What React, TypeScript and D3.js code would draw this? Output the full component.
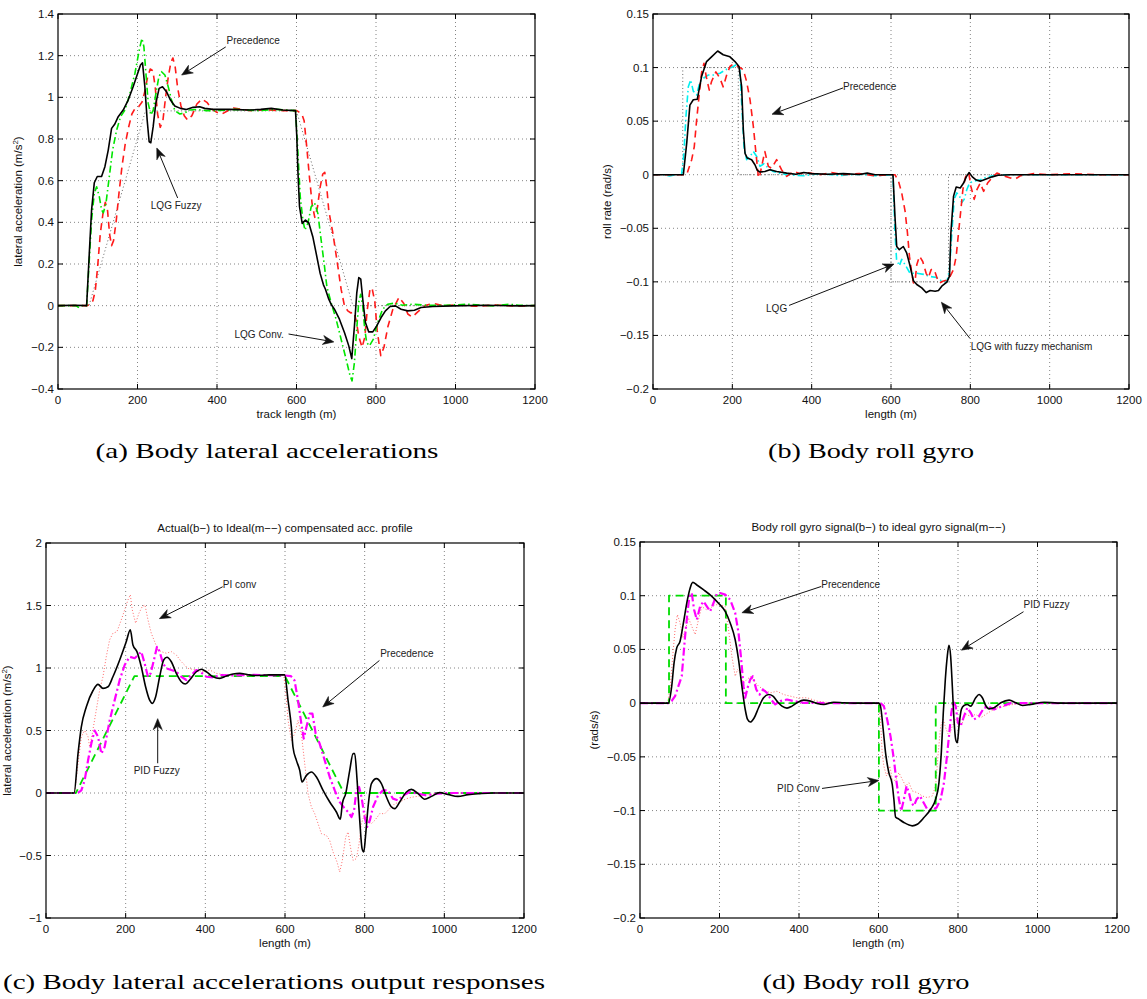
import React from 'react';
import * as d3 from 'd3';

type P = [number, number];

// ---------- shared ticks ----------
const xTicks = [0, 200, 400, 600, 800, 1000, 1200];
const accTicksA = [-0.4, -0.2, 0, 0.2, 0.4, 0.6, 0.8, 1, 1.2, 1.4];
const rollTicks = [-0.2, -0.15, -0.1, -0.05, 0, 0.05, 0.1, 0.15];
const accTicksC = [-1, -0.5, 0, 0.5, 1, 1.5, 2];

// ---------- panel (a): lateral accelerations ----------
const aIdeal: P[] = [[0,0],[78,0],[220,0.935],[600,0.935],[742,0],[1200,0]];
const aLqgFuzzy: P[] = [[0,0],[40,0.002],[72,0],[78.7,0.25],[84.5,0.46],[91.3,0.59],[98.8,0.62],[109.6,0.62],[118,0.667],[126.4,0.747],[134.8,0.851],[143,0.872],[151.5,0.907],[164,0.939],[176.6,0.987],[189,1.051],[199,1.107],[207.6,1.155],[212.6,1.166],[218.5,1.051],[224.3,0.891],[229.3,0.787],[233.5,0.782],[239.4,0.859],[246,0.971],[254.4,1.043],[262.9,1.051],[272.9,1.027],[283,0.987],[293.8,0.958],[308,0.947],[323,0.942],[339.8,0.952],[356.5,0.955],[369,0.947],[390,0.942],[431.8,0.942],[482,0.939],[510,0.942],[536.5,0.947],[565.6,0.939],[597.5,0.936],[600.8,0.811],[603.4,0.651],[607.6,0.475],[614.3,0.395],[622.6,0.411],[631,0.397],[641,0.331],[649.5,0.251],[659.5,0.155],[667.8,0.1],[672.8,0.079],[681.2,0.031],[687,0.007],[695.4,-0.017],[708,-0.065],[720.6,-0.129],[731.5,-0.193],[739,-0.254],[745.8,-0.097],[751.7,0.063],[756.7,0.135],[761.7,0.127],[766.7,0.031],[773.4,-0.081],[781.8,-0.126],[791.9,-0.126],[801.9,-0.097],[812.8,-0.057],[823.7,-0.025],[835.5,-0.004],[848.9,-0.001],[863.1,-0.017],[879.8,-0.025],[896.6,-0.022],[913.3,-0.009],[942.6,-0.004],[992.8,-0.001],[1076.5,0.002],[1160,-0.001],[1200,0]];
const aLqgConv: P[] = [[0,0],[45,0],[53,-0.01],[62,0.002],[72,0],[78.7,0.219],[84.5,0.411],[91.3,0.539],[97.2,0.571],[103.9,0.523],[109.8,0.459],[114,0.446],[120.7,0.491],[129,0.619],[137.4,0.747],[147.5,0.843],[157.5,0.907],[168.4,0.939],[181,1.019],[193.5,1.115],[204.4,1.227],[211.1,1.283],[216.1,1.243],[221.2,1.115],[227,0.971],[233.7,0.915],[239.6,0.939],[246.3,1.019],[253.8,1.099],[260.5,1.123],[268.9,1.107],[277.3,1.051],[285.7,0.987],[294,0.936],[306.6,0.92],[319.2,0.926],[331.8,0.939],[348.5,0.942],[373.6,0.936],[398.7,0.936],[448.9,0.942],[499,0.936],[549.2,0.942],[597.8,0.936],[603.6,0.731],[609.4,0.523],[616.1,0.411],[621.1,0.363],[628.6,0.395],[637,0.475],[645.4,0.494],[653.7,0.443],[662,0.315],[670.5,0.187],[676.4,0.091],[687,0.015],[699.6,-0.065],[712.2,-0.161],[724.8,-0.257],[734.8,-0.337],[739.8,-0.361],[745.7,-0.273],[751.5,-0.113],[756.5,0.015],[761.5,0.055],[766.6,-0.001],[771.6,-0.113],[776.6,-0.177],[783.3,-0.193],[793.4,-0.161],[804.2,-0.081],[816.8,-0.017],[829.4,0.007],[846.1,0.012],[867,0.002],[892.2,0.007],[925.7,0.002],[975.9,0.002],[1034.5,0.007],[1093,-0.001],[1135,0.007],[1160,0.002],[1200,0]];
const aPrecedence: P[] = [[0,0],[73,0],[81.2,0.008],[87.9,0.024],[93.8,0.072],[99.6,0.184],[106.3,0.344],[113,0.44],[118.9,0.496],[124.7,0.456],[129.7,0.344],[134.8,0.288],[139.8,0.312],[146.5,0.408],[153.2,0.536],[160.7,0.664],[169.1,0.776],[177.5,0.856],[185.9,0.92],[194.3,0.949],[202.7,0.955],[211.1,0.976],[217.8,1.024],[225.3,1.096],[232,1.136],[238.7,1.128],[244.6,1.048],[250.5,0.92],[257.2,0.856],[263.9,0.888],[270.6,1.0],[277.3,1.096],[284,1.168],[289.1,1.189],[294.9,1.144],[300.8,1.048],[309.2,0.96],[317.6,0.912],[326,0.891],[336.9,0.912],[349.4,0.968],[362,0.992],[374.6,0.976],[387.1,0.944],[399.7,0.928],[412.3,0.92],[424.8,0.933],[441.6,0.949],[458.3,0.944],[483.5,0.936],[517,0.94],[567.2,0.936],[600.7,0.936],[613.3,0.92],[619.2,0.888],[625.9,0.76],[632.6,0.616],[639.3,0.488],[646,0.424],[652.7,0.472],[659.4,0.568],[666.1,0.632],[671.1,0.64],[676.2,0.568],[681.2,0.456],[691.3,0.35],[703.9,0.19],[712.2,0.079],[720.6,0],[729,-0.025],[737,-0.035],[744,-0.03],[750,-0.07],[757,-0.15],[765,-0.2],[772,-0.15],[778,-0.02],[785,0.08],[790,0.085],[797,0.02],[803,-0.12],[812,-0.24],[820,-0.2],[830,-0.1],[842,-0.02],[858,0.04],[870,0.01],[880,-0.04],[891,-0.055],[905,-0.03],[925,0.002],[945,0.01],[970,0],[1000,0.004],[1050,-0.003],[1100,0.003],[1150,-0.002],[1200,0]];

// ---------- panel (b): roll gyro ----------
const bIdeal: P[] = [[0,0],[75,0],[75,0.1],[215,0.1],[215,0],[600,0],[600,-0.1],[745,-0.1],[745,0],[1200,0]];
const bLqgFuzzy: P[] = [[0,0],[76.5,0],[85,0.0295],[93,0.065],[101.6,0.07],[111.7,0.0705],[122.7,0.092],[135,0.1056],[147.6,0.11],[163,0.1155],[177,0.112],[194,0.11],[206.7,0.1056],[216.8,0.101],[223.5,0.082],[227.7,0.042],[232,0.02],[237.8,0.0155],[248.7,0.014],[257,0.0093],[263,0.004],[269.7,0.0025],[282,0.003],[294.9,0.0047],[311.7,0.003],[337,0.0015],[360,0.0005],[380,0.002],[400,0.001],[440,0.0005],[480,0.001],[520,0.0002],[540,0.0015],[560,0],[605,0],[610,-0.039],[614.4,-0.067],[621,-0.07],[631,-0.067],[639.5,-0.073],[648,-0.085],[656.5,-0.099],[665,-0.1025],[677.6,-0.1056],[688.6,-0.11],[698.7,-0.108],[711.3,-0.1087],[719.7,-0.108],[728,-0.104],[740.8,-0.1003],[747.5,-0.0947],[751,-0.054],[757.7,-0.02],[764.4,-0.0115],[774.5,-0.0124],[783,-0.0078],[789.7,-0.002],[797,0.002],[805,-0.002],[815,-0.005],[825,-0.006],[840,-0.004],[855,-0.002],[870,-0.0005],[900,0],[1200,0]];
const bPrecedence: P[] = [[0,0],[85,0],[89,0.0047],[97.5,0.014],[104,0.026],[110,0.051],[116.8,0.076],[122.7,0.096],[128.6,0.104],[135,0.09],[141.9,0.079],[147.6,0.087],[158.6,0.096],[168.7,0.09],[177,0.082],[185.7,0.093],[194,0.101],[202.5,0.1034],[215,0.101],[227.7,0.098],[236,0.087],[244.6,0.07],[253,0.045],[259.6,0.02],[265.5,-0.0015],[268,-0.003],[274,0.008],[282,0.0217],[290.8,0.0078],[299,0.006],[311.7,0.014],[324,0.0047],[337,-0.0015],[354,0.003],[371,0.001],[388,0.002],[420,0],[450,0.002],[480,0],[520,0.001],[560,-0.001],[600,0],[610,0],[618.8,-0.006],[627,-0.017],[635.5,-0.034],[641.4,-0.054],[646.5,-0.076],[652.4,-0.092],[656.6,-0.101],[660.8,-0.099],[665,-0.084],[671.8,-0.076],[680,-0.081],[688.6,-0.092],[694.5,-0.096],[701.3,-0.0885],[708.8,-0.0885],[715.6,-0.096],[722.3,-0.101],[730.8,-0.0994],[740.8,-0.0984],[749.3,-0.0947],[757.7,-0.0885],[764.4,-0.076],[770.3,-0.054],[776.2,-0.0326],[781.2,-0.014],[787.1,-0.003],[793,0.002],[796,0.0015],[801.5,-0.011],[809.8,-0.023],[816.6,-0.014],[825,-0.0078],[833.4,-0.0155],[843.5,-0.0078],[854.4,-0.003],[867,0.0015],[884,-0.001],[901,-0.003],[913.6,-0.004],[926,-0.001],[960,0.001],[1000,0],[1060,0.001],[1120,0],[1200,0]];
const bLqg: P[] = [[0,0],[30,0],[42,-0.0012],[55,0],[72,0],[78,0.02],[83,0.054],[89,0.082],[95,0.0885],[101.6,0.078],[110,0.0745],[118.5,0.087],[127,0.09],[139,0.093],[152,0.093],[168.7,0.0947],[185.6,0.0984],[202.5,0.101],[212.6,0.1034],[219,0.098],[223.5,0.067],[229.4,0.026],[236,0.014],[244.6,0.017],[253,0.0217],[261.4,0.017],[269.7,0.0078],[279.8,0.0102],[290.8,0.006],[303,0.003],[320,0.0015],[337,0],[380,-0.001],[420,0.001],[470,-0.0008],[520,0.0005],[560,-0.001],[605,0],[610,-0.054],[614,-0.079],[621,-0.085],[627,-0.079],[635.5,-0.084],[648,-0.092],[665,-0.092],[682,-0.093],[698.7,-0.095],[715.6,-0.096],[728,-0.0994],[740.8,-0.1],[747.5,-0.0885],[753.4,-0.054],[759.3,-0.023],[766,-0.017],[772.7,-0.02],[778.6,-0.026],[784.5,-0.023],[791,-0.014],[798,-0.0078],[808,-0.006],[825,-0.0047],[842,-0.002],[859,-0.001],[880,0],[1200,0]];

// ---------- panel (c): lateral acceleration output responses ----------
const cIdeal: P[] = [[0,0],[75,0],[222,0.935],[600,0.935],[748,0],[1200,0]];
const cPidFuzzy: P[] = [[0,0],[70.5,0],[80.4,0.3155],[88.7,0.529],[101.3,0.69],[118,0.82],[130.6,0.869],[143,0.837],[155.7,0.85],[168,0.93],[185,1.064],[201.5,1.211],[211.6,1.305],[218.3,1.184],[228.3,1.131],[239.2,1.01],[250,0.85],[260.2,0.743],[266.9,0.717],[275.3,0.77],[285.3,0.93],[295.4,1.064],[303.7,1.086],[314.6,1.05],[327.2,0.957],[339.7,0.89],[349.8,0.872],[360.7,0.904],[377.4,0.97],[390,0.99],[402.6,0.97],[419.3,0.93],[436,0.917],[452.8,0.936],[469.6,0.952],[486.3,0.957],[505,0.948],[525,0.94],[560,0.945],[599,0.945],[607.7,0.74],[616,0.528],[620,0.368],[628.6,0.261],[637,0.181],[642.8,0.088],[653.8,0.141],[666.3,0.168],[678.9,0.128],[695.6,0.021],[712.3,-0.072],[729,-0.152],[739,-0.21],[744,-0.085],[752.4,-0.005],[762.5,0.181],[770.9,0.315],[775,0.315],[781,0.101],[787.6,-0.219],[793.5,-0.445],[797.7,-0.472],[802.7,-0.325],[808.5,-0.112],[817,0.075],[829.5,0.115],[842,0.075],[854.6,-0.032],[867.2,-0.112],[875.5,-0.125],[888,-0.072],[904.8,0.008],[917.4,0.029],[934,-0.005],[950.8,-0.05],[967.6,-0.027],[988.5,0.003],[1009,-0.011],[1034,-0.027],[1059.5,-0.013],[1088.8,-0.005],[1120,0],[1200,0]];
const cPrecedence: P[] = [[0,0],[80,0],[88.7,0.021],[97,0.1],[105.5,0.26],[113.8,0.396],[122,0.5],[130.6,0.45],[139,0.315],[147.3,0.369],[160,0.583],[172.4,0.743],[185,0.904],[197.5,1.024],[210,1.09],[222.6,1.078],[231,1.104],[239.2,1.131],[247.6,1.037],[256,0.93],[262.7,0.957],[271,1.064],[278.6,1.17],[285.3,1.131],[293.7,1.037],[302,0.997],[314.6,0.984],[327.2,0.97],[339.7,0.93],[352.3,0.904],[365,0.944],[377.4,0.984],[390,0.963],[402.6,0.93],[419.3,0.925],[436,0.944],[470,0.94],[520,0.945],[600,0.94],[615,0.935],[624,0.9],[632.7,0.74],[641,0.555],[647,0.435],[653.8,0.528],[662,0.635],[668.9,0.635],[677,0.475],[687,0.395],[699.7,0.261],[712.3,0.128],[724.9,0.021],[737.5,-0.072],[750,-0.125],[758.5,-0.152],[766.8,-0.192],[773.4,-0.139],[779.3,0.021],[786,0.048],[792,-0.032],[800,-0.192],[806,-0.272],[813,-0.219],[821,-0.112],[833.6,-0.019],[846,0.021],[858.6,0.021],[871,-0.045],[883.8,-0.059],[896.3,-0.019],[913,0.008],[934,-0.005],[955,-0.019],[980,-0.005],[1010,0],[1200,0]];
const cPiConv: P[] = [[0,0],[72,0],[80.4,0.235],[88.7,0.45],[97,0.5],[105.5,0.45],[109.6,0.369],[116.3,0.476],[124.7,0.636],[134.7,0.823],[143,0.93],[151.3,1.09],[159.7,1.225],[168,1.278],[178,1.29],[189,1.385],[197.5,1.465],[205.8,1.545],[211.6,1.586],[216.6,1.465],[225,1.358],[233.4,1.439],[241.7,1.492],[248.4,1.505],[256,1.385],[264.3,1.278],[272.7,1.211],[281,1.144],[289.4,1.131],[302,1.118],[314.6,1.131],[327.2,1.104],[339.7,1.05],[356.5,0.997],[377.4,0.984],[394.2,0.97],[411,0.984],[427.7,0.957],[452.8,0.944],[500,0.94],[597,0.94],[603,0.768],[607.7,0.581],[616,0.421],[624.4,0.475],[632.7,0.581],[641,0.475],[649.5,0.235],[657.8,-0.005],[666.2,-0.112],[674.6,-0.165],[683,-0.245],[691.3,-0.325],[703.8,-0.339],[712.2,-0.379],[720.6,-0.472],[730.6,-0.552],[737.3,-0.632],[744,-0.539],[752.4,-0.352],[758.3,-0.312],[764.2,-0.432],[770.9,-0.539],[779.3,-0.525],[786,-0.405],[791.8,-0.245],[800.2,-0.165],[808.5,-0.219],[817,-0.245],[825.4,-0.219],[838,-0.165],[850.5,-0.165],[863,-0.125],[875.6,-0.085],[888,-0.072],[904.8,-0.045],[921.6,-0.032],[946.7,-0.019],[980,-0.005],[1020,0],[1200,0]];

// ---------- panel (d): roll gyro output responses ----------
const dIdeal: P[] = [[0,0],[73,0],[73,0.1],[216,0.1],[216,0],[601,0],[601,-0.1],[744,-0.1],[744,0],[1200,0]];
const dPidFuzzy: P[] = [[0,0],[71.4,0],[79.8,0.0158],[85.7,0.0375],[92.4,0.0514],[100.8,0.0576],[109.2,0.0746],[119.3,0.0963],[126,0.107],[132.8,0.1124],[143,0.11],[159.6,0.1056],[180.7,0.0994],[197.5,0.093],[214.3,0.0854],[226.9,0.0746],[239.5,0.059],[247.9,0.0406],[256.3,0.0158],[264.7,-0.0059],[270.6,-0.0152],[277.3,-0.0176],[287.4,-0.0136],[298.3,-0.0043],[310.9,0.005],[323.5,0.008],[334.5,0.0065],[344.6,0.0019],[357.2,-0.0028],[369.8,-0.0046],[382.4,-0.0028],[395,0.0003],[411.8,0.0028],[428.6,0.0019],[445.4,-0.0003],[462.2,-0.0012],[487.4,0.0009],[512.6,0.0003],[537.8,0],[600.8,0],[605,-0.0028],[611.8,-0.0245],[617.7,-0.046],[626,-0.0647],[634.5,-0.0755],[638.7,-0.0895],[642.9,-0.1059],[651.3,-0.108],[663.9,-0.1111],[685,-0.1142],[697.6,-0.1127],[714.4,-0.1065],[731.2,-0.0988],[743.7,-0.0895],[752.1,-0.074],[758,-0.0461],[763,-0.009],[768.1,0.022],[773.1,0.0437],[777.3,0.0539],[781.5,0.0437],[785.7,0.0158],[789.9,-0.0152],[794.1,-0.0337],[798.3,-0.0368],[802.5,-0.0214],[808.4,-0.0059],[815.1,-0.0022],[823.5,-0.0012],[832,-0.0028],[844.5,0.005],[852.9,0.008],[861.3,0.005],[869.7,-0.0022],[878.1,-0.0053],[890.7,-0.0043],[907.6,0.0003],[928.6,0.0028],[945.4,0.0003],[962.2,-0.0022],[983.2,-0.0012],[1016.8,0.0009],[1050.4,0],[1200,0]];
const dPrecedence: P[] = [[0,0],[71.4,0],[79.8,0.002],[88.2,0.0065],[96.6,0.0158],[105,0.025],[109.2,0.0437],[113.4,0.0622],[119.3,0.0839],[124.3,0.0994],[130.2,0.1025],[136.1,0.087],[142.9,0.0777],[151.3,0.09],[159.7,0.0947],[168.1,0.09],[176.5,0.0854],[184.9,0.0932],[193.3,0.1019],[201.7,0.1025],[214.3,0.101],[226.9,0.0963],[239.5,0.0839],[247.9,0.0653],[253.8,0.0437],[260.5,0.0158],[264.7,0.005],[270.6,0.0142],[277.3,0.022],[284,0.025],[292.5,0.0127],[300.9,0.008],[309.3,0.0127],[319.4,0.0096],[329.5,0.0034],[340.4,-0.0012],[353,0.0019],[369.8,0.0034],[386.6,0.0019],[411.8,0.0003],[500,0],[605,0],[613.5,-0.0028],[621.8,-0.0152],[630.2,-0.0307],[638.7,-0.0523],[644.5,-0.0709],[651.3,-0.0895],[657.2,-0.1003],[663.9,-0.0895],[670.6,-0.0771],[676.5,-0.0833],[682.4,-0.0926],[689.1,-0.0957],[695.8,-0.0895],[704.2,-0.0864],[712.6,-0.092],[722.7,-0.0988],[735.3,-0.0994],[746.2,-0.0972],[756.3,-0.0895],[764.7,-0.074],[771.4,-0.0523],[777.3,-0.0307],[783.2,-0.009],[788.2,0.0019],[794.1,-0.0028],[800,-0.0183],[806.7,-0.0214],[815.1,-0.0121],[823.5,-0.0043],[832,-0.009],[840.3,-0.0152],[852.9,-0.0121],[865.5,-0.0043],[878.1,-0.0034],[890.7,-0.0059],[907.6,-0.0034],[932.8,0],[1200,0]];
const dPidConv: P[] = [[0,0],[69,0],[75.6,0.0127],[82.3,0.0437],[88.2,0.0684],[94.1,0.0824],[100.8,0.0746],[107.6,0.0607],[114.3,0.0684],[121.8,0.0793],[130.2,0.0715],[138.7,0.0638],[147.1,0.0777],[155.5,0.09],[166.4,0.087],[176.5,0.0885],[189.1,0.0916],[201.7,0.0916],[214.3,0.09],[222.7,0.0684],[231.1,0.0437],[239.5,0.025],[245.4,0.0313],[252.1,0.0282],[260.5,0.0189],[268.9,0.022],[279,0.025],[287.4,0.0204],[298.3,0.0158],[310.9,0.0127],[327.7,0.0096],[344.6,0.0111],[361.4,0.008],[378.2,0.0065],[395,0.005],[420.2,0.005],[445.4,0.0019],[479,0.0003],[600.8,0],[605,-0.0152],[609.2,-0.0461],[613.4,-0.0585],[620.2,-0.0678],[628.6,-0.0585],[634.5,-0.0709],[642.9,-0.0724],[651.3,-0.0647],[659.7,-0.0709],[668.1,-0.0771],[676.5,-0.074],[684.9,-0.0817],[697.5,-0.0833],[710.1,-0.0864],[722.7,-0.0879],[735.3,-0.0864],[743.7,-0.0771],[749.6,-0.0492],[756.3,-0.0214],[763,-0.0152],[768.9,-0.0229],[777.3,-0.0307],[785.7,-0.0214],[794.1,-0.0152],[802.5,-0.0214],[810.9,-0.0183],[819.3,-0.0105],[832,-0.0121],[844.5,-0.0105],[857.1,-0.0136],[869.7,-0.0105],[882.4,-0.0074],[899.2,-0.0043],[924.4,-0.0022],[958,0],[1200,0]];

// ---------- annotations (data coordinates) ----------
type Ann = { text: string; tx: number; ty: number; sx: number; sy: number; ex: number; ey: number };
const aNotes: Ann[] = [
  { text: 'Precedence', tx: 424, ty: 1.275, sx: 422, sy: 1.242, ex: 311, ey: 1.107 },
  { text: 'LQG Fuzzy', tx: 233.5, ty: 0.483, sx: 301, sy: 0.517, ex: 248.5, ey: 0.757 },
  { text: 'LQG Conv.', tx: 444, ty: -0.136, sx: 580, sy: -0.136, ex: 694, ey: -0.174 },
];
const bNotes: Ann[] = [
  { text: 'Precedence', tx: 479, ty: 0.0823, sx: 479, sy: 0.081, ex: 300, ey: 0.0564 },
  { text: 'LQG', tx: 285, ty: -0.1248, sx: 343, sy: -0.122, ex: 607.6, ey: -0.0834 },
  { text: 'LQG with fuzzy mechanism', tx: 801, ty: -0.16, sx: 799, sy: -0.1528, ex: 727, ey: -0.119 },
];
const cNotes: Ann[] = [
  { text: 'PI conv', tx: 444, ty: 1.667, sx: 443.6, sy: 1.65, ex: 284.7, ey: 1.395 },
  { text: 'Precedence', tx: 839, ty: 1.115, sx: 837, sy: 1.06, ex: 694.7, ey: 0.688 },
  { text: 'PID Fuzzy', tx: 220.2, ty: 0.18, sx: 280.4, sy: 0.238, ex: 280.4, ey: 0.595 },
];
const dNotes: Ann[] = [
  { text: 'Precendence', tx: 456, ty: 0.11, sx: 456, sy: 0.1086, ex: 256.4, ey: 0.0842 },
  { text: 'PID Fuzzy', tx: 964.8, ty: 0.0919, sx: 964.8, sy: 0.0851, ex: 808.5, ey: 0.0493 },
  { text: 'PID Conv', tx: 344.6, ty: -0.0797, sx: 458, sy: -0.0794, ex: 600.8, ey: -0.072 },
];

// ---------- styles ----------
type Series = { data: P[]; color: string; width: number; dash?: string; smooth?: boolean };
const sBlack = { color: '#000', width: 1.6 };
const sRedDash = { color: '#ff1a1a', width: 1.6, dash: '7,5' };
const sGreenDashDot = { color: '#00e600', width: 1.6, dash: '7,3,1.5,3' };
const sCyanDashDot = { color: '#00f0f0', width: 1.6, dash: '7,3,1.5,3' };
const sGrayDot = { color: '#555', width: 0.9, dash: '1,2.5' };
const sMagenta = { color: '#ff00ff', width: 2.2, dash: '8,3,2,3' };
const sGreenDash = { color: '#00dd00', width: 1.8, dash: '8,5' };
const sRedDot = { color: '#ff6a6a', width: 1, dash: '1,2' };

type PanelCfg = {
  key: string;
  left: number; right: number; top: number; bottom: number;
  yDomain: [number, number]; yTicks: number[];
  series: Series[]; notes: Ann[];
  xLabel: string; yLabel: React.ReactNode; yLabelX: number;
  title?: string;
  caption: string; capX: number; capY: number; capLen: number;
};

const fmt = (v: number) => String(Math.round(v * 1000) / 1000).replace('-', '\u2212');

const panels: PanelCfg[] = [
  {
    key: 'a', left: 58, right: 535, top: 14, bottom: 389,
    yDomain: [-0.4, 1.4], yTicks: accTicksA,
    series: [
      { data: aIdeal, ...sGrayDot },
      { data: aPrecedence, ...sRedDash },
      { data: aLqgConv, ...sGreenDashDot },
      { data: aLqgFuzzy, ...sBlack },
    ],
    notes: aNotes,
    xLabel: 'track length (m)',
    yLabel: <>lateral acceleration (m/s<tspan dy={-4} fontSize={8}>2</tspan><tspan dy={4}>)</tspan></>,
    yLabelX: 22,
    caption: '(a) Body lateral accelerations', capX: 267, capY: 458, capLen: 343,
  },
  {
    key: 'b', left: 653, right: 1129, top: 14, bottom: 389,
    yDomain: [-0.2, 0.15], yTicks: rollTicks,
    series: [
      { data: bIdeal, ...sGrayDot },
      { data: bLqg, ...sCyanDashDot },
      { data: bPrecedence, ...sRedDash },
      { data: bLqgFuzzy, ...sBlack },
    ],
    notes: bNotes,
    xLabel: 'length (m)',
    yLabel: <>roll rate (rad/s)</>,
    yLabelX: 611,
    caption: '(b) Body roll gyro', capX: 871, capY: 458, capLen: 206,
  },
  {
    key: 'c', left: 46, right: 524, top: 543, bottom: 918,
    yDomain: [-1, 2], yTicks: accTicksC,
    series: [
      { data: cPiConv, ...sRedDot },
      { data: cIdeal, ...sGreenDash },
      { data: cPrecedence, ...sMagenta },
      { data: cPidFuzzy, ...sBlack, smooth: true },
    ],
    notes: cNotes,
    xLabel: 'length (m)',
    yLabel: <>lateral acceleration (m/s<tspan dy={-4} fontSize={8}>2</tspan><tspan dy={4}>)</tspan></>,
    yLabelX: 11,
    title: 'Actual(b\u2212) to Ideal(m\u2212\u2212) compensated acc. profile',
    caption: '(c) Body lateral accelerations output responses', capX: 274, capY: 989, capLen: 542,
  },
  {
    key: 'd', left: 640, right: 1117, top: 542, bottom: 918,
    yDomain: [-0.2, 0.15], yTicks: rollTicks,
    series: [
      { data: dPidConv, ...sRedDot },
      { data: dIdeal, ...sGreenDash },
      { data: dPrecedence, ...sMagenta },
      { data: dPidFuzzy, ...sBlack, smooth: true },
    ],
    notes: dNotes,
    xLabel: 'length (m)',
    yLabel: <>(rads/s)</>,
    yLabelX: 598,
    title: 'Body roll gyro signal(b\u2212) to ideal gyro signal(m\u2212\u2212)',
    caption: '(d) Body roll gyro', capX: 866, capY: 989, capLen: 207,
  },
];

const SANS = '"Liberation Sans", Arial, Helvetica, sans-serif';
const SERIF = '"Liberation Serif", "DejaVu Serif", serif';

function Arrow({ x1, y1, x2, y2 }: { x1: number; y1: number; x2: number; y2: number }) {
  const dx = x2 - x1, dy = y2 - y1;
  const len = Math.hypot(dx, dy) || 1;
  const ux = dx / len, uy = dy / len;
  const nx = -uy, ny = ux;
  const L = 11, W = 4.5;
  const bx = x2 - L * ux, by = y2 - L * uy;
  const head = `M${x2},${y2} L${bx + W * nx},${by + W * ny} L${x2 - 0.7 * L * ux},${y2 - 0.7 * L * uy} L${bx - W * nx},${by - W * ny} Z`;
  return (
    <g>
      <line x1={x1} y1={y1} x2={x2 - 0.7 * L * ux} y2={y2 - 0.7 * L * uy} stroke="#111" strokeWidth={1} />
      <path d={head} fill="#111" stroke="#111" strokeWidth={0.6} strokeLinejoin="miter" />
    </g>
  );
}

function Panel({ cfg }: { cfg: PanelCfg }) {
  const x = d3.scaleLinear().domain([0, 1200]).range([cfg.left, cfg.right]);
  const y = d3.scaleLinear().domain(cfg.yDomain).range([cfg.bottom, cfg.top]);
  const lineLin = d3.line<P>().x(d => x(d[0])).y(d => y(d[1]));
  const lineSm = d3.line<P>().x(d => x(d[0])).y(d => y(d[1])).curve(d3.curveMonotoneX);
  const tl = 5;
  const clipId = `clip-${cfg.key}`;
  const midX = (cfg.left + cfg.right) / 2;
  const midY = (cfg.top + cfg.bottom) / 2;
  return (
    <g>
      <defs>
        <clipPath id={clipId}>
          <rect x={cfg.left} y={cfg.top} width={cfg.right - cfg.left} height={cfg.bottom - cfg.top} />
        </clipPath>
      </defs>
      <rect x={cfg.left} y={cfg.top} width={cfg.right - cfg.left} height={cfg.bottom - cfg.top} fill="#fff" />
      {/* grid */}
      <g stroke="#666" strokeWidth={0.8} strokeDasharray="1,3">
        {xTicks.slice(1, -1).map(t => (
          <line key={'gx' + t} x1={x(t)} x2={x(t)} y1={cfg.top} y2={cfg.bottom} />
        ))}
        {cfg.yTicks.slice(1, -1).map(t => (
          <line key={'gy' + t} x1={cfg.left} x2={cfg.right} y1={y(t)} y2={y(t)} />
        ))}
      </g>
      {/* series */}
      <g clipPath={`url(#${clipId})`} fill="none" strokeLinejoin="round">
        {cfg.series.map((s, i) => (
          <path key={i} d={(s.smooth ? lineSm : lineLin)(s.data) || ''} stroke={s.color}
            strokeWidth={s.width} strokeDasharray={s.dash} />
        ))}
      </g>
      {/* box and ticks */}
      <rect x={cfg.left} y={cfg.top} width={cfg.right - cfg.left} height={cfg.bottom - cfg.top}
        fill="none" stroke="#000" strokeWidth={1.2} />
      <g stroke="#000" strokeWidth={1}>
        {xTicks.map(t => (
          <g key={'tx' + t}>
            <line x1={x(t)} x2={x(t)} y1={cfg.bottom} y2={cfg.bottom - tl} />
            <line x1={x(t)} x2={x(t)} y1={cfg.top} y2={cfg.top + tl} />
          </g>
        ))}
        {cfg.yTicks.map(t => (
          <g key={'ty' + t}>
            <line x1={cfg.left} x2={cfg.left + tl} y1={y(t)} y2={y(t)} />
            <line x1={cfg.right} x2={cfg.right - tl} y1={y(t)} y2={y(t)} />
          </g>
        ))}
      </g>
      {/* tick labels */}
      <g fontFamily={SANS} fontSize={11.5} fill="#111">
        {xTicks.map(t => (
          <text key={'lx' + t} x={x(t)} y={cfg.bottom + 15} textAnchor="middle">{fmt(t)}</text>
        ))}
        {cfg.yTicks.map(t => (
          <text key={'ly' + t} x={cfg.left - 4} y={y(t) + 4} textAnchor="end">{fmt(t)}</text>
        ))}
      </g>
      {/* axis labels */}
      <text x={midX} y={cfg.bottom + 29} textAnchor="middle" fontFamily={SANS} fontSize={11.5} fill="#111">{cfg.xLabel}</text>
      <text transform={`translate(${cfg.yLabelX},${midY}) rotate(-90)`} textAnchor="middle"
        fontFamily={SANS} fontSize={11.5} fill="#111">{cfg.yLabel}</text>
      {cfg.title && (
        <text x={midX} y={cfg.top - 11} textAnchor="middle" fontFamily={SANS} fontSize={11.5} fill="#111">{cfg.title}</text>
      )}
      {/* annotations */}
      {cfg.notes.map((n, i) => (
        <g key={'n' + i}>
          <Arrow x1={x(n.sx)} y1={y(n.sy)} x2={x(n.ex)} y2={y(n.ey)} />
          <text x={x(n.tx)} y={y(n.ty) + 3.5} fontFamily={SANS} fontSize={10} fill="#222">{n.text}</text>
        </g>
      ))}
      {/* caption */}
      <text x={cfg.capX} y={cfg.capY} textAnchor="middle" fontFamily={SERIF} fontSize={22}
        textLength={cfg.capLen} lengthAdjust="spacingAndGlyphs" fill="#000">{cfg.caption}</text>
    </g>
  );
}

export default function App() {
  return (
    <svg width={1147} height={999} viewBox="0 0 1147 999"
      style={{ position: 'absolute', left: 0, top: 0, background: '#fff' }}>
      <rect x={0} y={0} width={1147} height={999} fill="#fff" />
      {panels.map(p => <Panel key={p.key} cfg={p} />)}
    </svg>
  );
}
